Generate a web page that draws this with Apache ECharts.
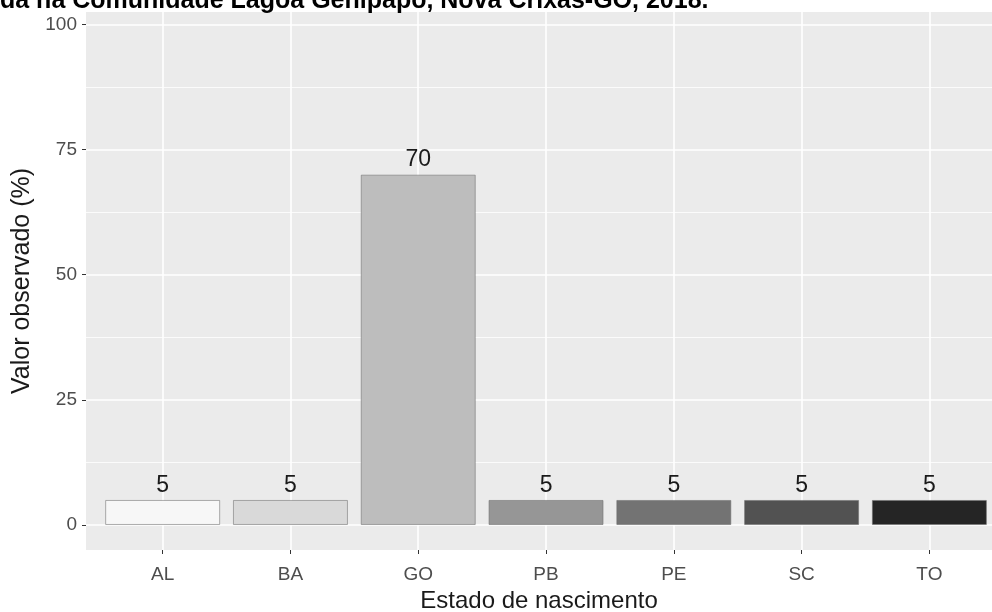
<!DOCTYPE html>
<html>
<head>
<meta charset="utf-8">
<script src="https://cdn.jsdelivr.net/npm/echarts@6/dist/echarts.min.js"></script>
<style>html,body{margin:0;padding:0;background:#fff;}#c{width:992px;height:612px;}</style>
</head>
<body>
<div id="c"></div>
<script>
const categories = ['AL', 'BA', 'GO', 'PB', 'PE', 'SC', 'TO'];
const values = [5, 5, 70, 5, 5, 5, 5];
const barColors = ['#F7F7F7', '#D9D9D9', '#BDBDBD', '#969696', '#737373', '#525252', '#252525'];
const yTicks = [0, 25, 50, 75, 100];
const yMinor = [12.5, 37.5, 62.5, 87.5];
const titleText = 'da na Comunidade Lagoa Genipapo, Nova Crixás-GO, 2018.';

const positions = categories.map((c, i) => i + 1);

const chart = echarts.init(document.getElementById('c'), null, {renderer: 'canvas'});
chart.setOption({
  animation: false,
  backgroundColor: '#fff',
  graphic: [{
    type: 'text', left: 0, top: -11, z: 100,
    style: {text: titleText, fontFamily: 'Liberation Sans', fontWeight: 'bold', fontSize: 25, fill: '#000'}
  }],
  grid: {left: 86, right: 0, top: 12, bottom: 62, show: true, backgroundColor: '#EBEBEB', borderWidth: 0,
    containLabel: false, outerBoundsMode: 'none'},
  xAxis: {
    type: 'value', min: 0.4, max: 7.49,
    name: 'Estado de nascimento', nameLocation: 'middle', nameGap: 38,
    nameTextStyle: {fontFamily: 'Liberation Sans', fontSize: 24, color: '#1a1a1a'},
    axisLine: {show: false, onZero: false},
    axisTick: {show: true, length: 4, lineStyle: {color: '#333', width: 1}, customValues: positions},
    axisLabel: {customValues: positions, fontFamily: 'Liberation Sans', fontSize: 19, color: '#4D4D4D', margin: 15,
      formatter: v => categories[Math.round(v) - 1] || ''},
    splitLine: {show: true, lineStyle: {color: '#fff', width: 1.6}}
  },
  yAxis: {
    type: 'value', min: -5, max: 102.5,
    name: 'Valor observado (%)', nameLocation: 'middle', nameGap: 50,
    nameTextStyle: {fontFamily: 'Liberation Sans', fontSize: 25, color: '#1a1a1a'},
    axisLine: {show: false, onZero: false},
    axisTick: {show: true, length: 4, lineStyle: {color: '#333', width: 1}, customValues: yTicks},
    axisLabel: {customValues: yTicks, fontFamily: 'Liberation Sans', fontSize: 19, color: '#4D4D4D', margin: 9},
    splitLine: {show: true, lineStyle: {color: '#fff', width: 1.6}}
  },
  series: [{
    type: 'bar',
    barWidth: 115,
    z: 3,
    data: values.map((v, i) => ({
      value: [positions[i], v],
      itemStyle: {color: barColors[i], borderColor: 'rgba(110,110,110,0.55)', borderWidth: 1}
    })),
    label: {show: true, position: 'top', distance: 3, fontFamily: 'Liberation Sans', fontSize: 23, color: '#1a1a1a',
      formatter: p => String(p.value[1])},
    markLine: {
      silent: true, symbol: 'none', z: 1, label: {show: false},
      lineStyle: {color: '#fff', width: 0.8, type: 'solid'},
      data: yMinor.map(v => ({yAxis: v}))
    }
  }]
});
</script>
</body>
</html>
